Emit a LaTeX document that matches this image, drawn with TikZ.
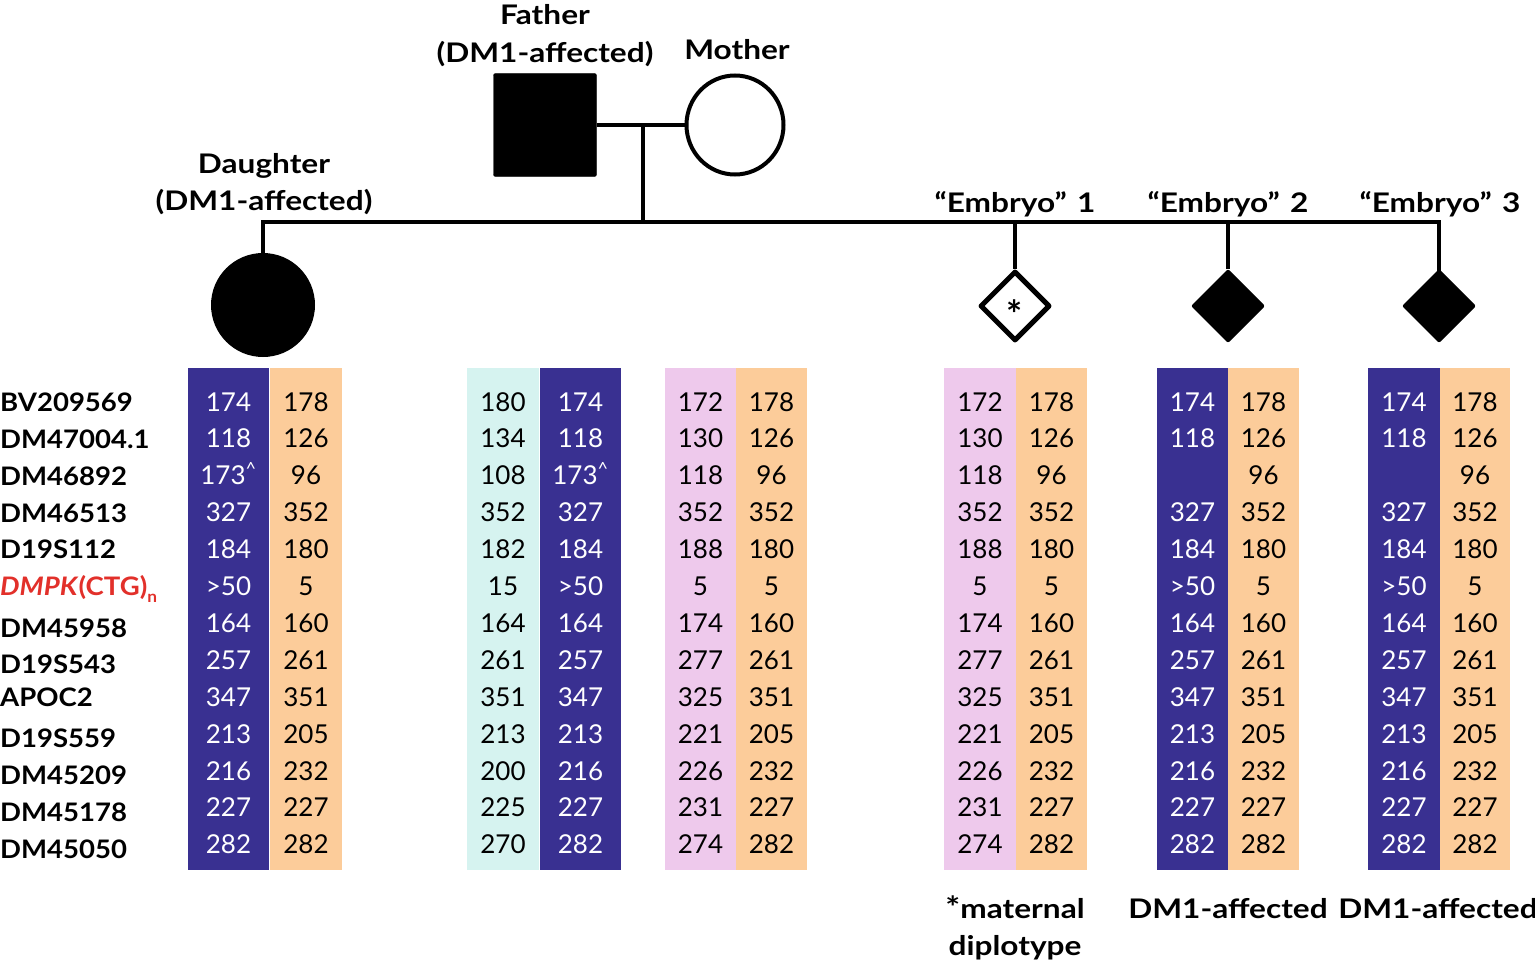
\documentclass[tikz,border=0pt]{standalone}
\usepackage{fontspec}
\setmainfont{Lato}
\newfontfamily\pedfont[FakeStretch=1.17]{Lato}
\newfontfamily\labfont[FakeStretch=1.08]{Lato}
\usetikzlibrary{shapes.geometric}
\definecolor{cblue}{RGB}{57,48,145}
\definecolor{corange}{RGB}{252,204,154}
\definecolor{ccyan}{RGB}{214,243,240}
\definecolor{cpink}{RGB}{238,201,236}
\definecolor{cred}{RGB}{226,48,42}
\newcommand\crt{\textsuperscript{\textasciicircum}}
\newcommand\allelecol[6]{%
  \fill[#3] (#1,368) rectangle (#2,870);
  \foreach \v [count=\i] in {#5} {
    \node[num,text=#4] (#6-\i) at ({(#1+#2)/2},{411+(\i-1)*36.9}) {\v};
  }
}
\begin{document}
\begin{tikzpicture}[x=1pt,y=-1pt,
  num/.style={anchor=base,inner sep=0pt,font=\fontsize{26}{30}\selectfont},
  lab/.style={anchor=base west,inner sep=0pt,font=\labfont\fontsize{25.5}{30}\selectfont\bfseries},
  ped/.style={anchor=base,inner sep=0pt,font=\pedfont\fontsize{27}{32}\selectfont\bfseries},
  pline/.style={line width=4pt},
  affsq/.style={draw,fill=black,minimum size=103pt,inner sep=0pt,rounded corners=2pt},
  affci/.style={circle,fill=black,minimum size=104pt,inner sep=0pt},
  unci/.style={ellipse,draw,line width=4pt,minimum width=97pt,minimum height=99pt,inner sep=0pt},
  undi/.style={diamond,draw,line width=5pt,line join=round,minimum size=70pt,inner sep=0pt},
  affdi/.style={diamond,fill=black,draw,line width=4pt,line join=round,minimum size=70pt,inner sep=0pt},
]
\useasboundingbox (0,0) rectangle (1535,966);

% pedigree symbols
\node[affsq] (fa) at (545,125) {};
\node[unci] (mo) at (735,125) {};
\node[affci] (dau) at (263,305) {};
\node[undi] (e1) at (1015,306) {};
\node[inner sep=0pt,font=\fontsize{38}{38}\selectfont\bfseries] (e1s) at (1015,314) {*};
\node[affdi] (e2) at (1228,306) {};
\node[affdi] (e3) at (1439,306) {};
\coordinate (m) at (643,125);
\coordinate (s) at (643,222);

\draw[pline] (fa.east) -- (mo.west);
\draw[pline] (m) -- (s);
\draw[pline,line cap=rect] (dau.north) |- (s) -| (e3.north);
\draw[pline] (e1.north) -- (e1.north |- s);
\draw[pline] (e2.north) -- (e2.north |- s);

% pedigree labels
\node[ped] (tfa1) at (545,25) {Father};
\node[ped] (tfa2) at (545,63) {(DM1-affected)};
\node[ped] (tmo) at (737,60) {Mother};
\node[ped] (tda1) at (264,173) {Daughter};
\node[ped] (tda2) at (264,210) {(DM1-affected)};
\node[ped] (te1) at (1015,212) {“Embryo”\hspace{0.1em} 1};
\node[ped] (te2) at (1228,212) {“Embryo”\hspace{0.1em} 2};
\node[ped] (te3) at (1440,212) {“Embryo”\hspace{0.1em} 3};
\node[ped] (b1a) at (1015,918) {{\fontsize{30}{30}\selectfont *}maternal};
\node[ped] (b1b) at (1015,955) {diplotype};
\node[ped] (b2) at (1228,918) {DM1-affected};
\node[ped] (b3) at (1438,918) {DM1-affected};

% marker labels
\node[lab] (l1) at (0,411) {BV209569};
\node[lab] (l2) at (0,448) {DM47004.1};
\node[lab] (l3) at (0,485) {DM46892};
\node[lab] (l4) at (0,522) {DM46513};
\node[lab] (l5) at (0,558) {D19S112};
\node[lab,text=cred] (l6) at (0,595) {\textit{DMPK}(CTG)\raisebox{-0.3em}{\fontsize{16}{16}\selectfont n}};
\node[lab] (l7) at (0,637) {DM45958};
\node[lab] (l8) at (0,673) {D19S543};
\node[lab] (l9) at (0,706) {APOC2};
\node[lab] (l10) at (0,747) {D19S559};
\node[lab] (l11) at (0,784) {DM45209};
\node[lab] (l12) at (0,821) {DM45178};
\node[lab] (l13) at (0,858) {DM45050};

% allele columns
\allelecol{188}{269}{cblue}{white}{174,118,173\crt,327,184,>50,164,257,347,213,216,227,282}{d1}
\allelecol{270}{342}{corange}{black}{178,126,96,352,180,5,160,261,351,205,232,227,282}{d2}
\allelecol{467}{539}{ccyan}{black}{180,134,108,352,182,15,164,261,351,213,200,225,270}{f1}
\allelecol{540}{621}{cblue}{white}{174,118,173\crt,327,184,>50,164,257,347,213,216,227,282}{f2}
\allelecol{665}{736}{cpink}{black}{172,130,118,352,188,5,174,277,325,221,226,231,274}{m1}
\allelecol{736}{807}{corange}{black}{178,126,96,352,180,5,160,261,351,205,232,227,282}{m2}
\allelecol{944}{1016}{cpink}{black}{172,130,118,352,188,5,174,277,325,221,226,231,274}{a1}
\allelecol{1016}{1087}{corange}{black}{178,126,96,352,180,5,160,261,351,205,232,227,282}{a2}
\allelecol{1157}{1228}{cblue}{white}{174,118,{},327,184,>50,164,257,347,213,216,227,282}{b1}
\allelecol{1228}{1299}{corange}{black}{178,126,96,352,180,5,160,261,351,205,232,227,282}{b2}
\allelecol{1368}{1440}{cblue}{white}{174,118,{},327,184,>50,164,257,347,213,216,227,282}{c1}
\allelecol{1440}{1510}{corange}{black}{178,126,96,352,180,5,160,261,351,205,232,227,282}{c2}
\end{tikzpicture}
\end{document}
